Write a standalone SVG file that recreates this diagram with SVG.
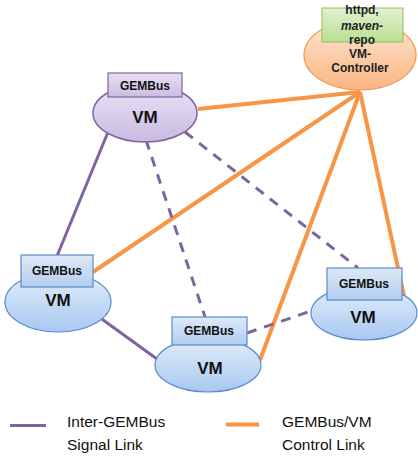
<svg xmlns="http://www.w3.org/2000/svg" width="418" height="456" viewBox="0 0 418 456">
<defs>
<linearGradient id="gBlue" x1="0" y1="0" x2="0" y2="1"><stop offset="0" stop-color="#e3eefb"/><stop offset="1" stop-color="#a8c8f0"/></linearGradient>
<linearGradient id="gBlueBox" x1="0" y1="0" x2="0" y2="1"><stop offset="0" stop-color="#dde9f8"/><stop offset="1" stop-color="#b3cdef"/></linearGradient>
<linearGradient id="gPurple" x1="0" y1="0" x2="0" y2="1"><stop offset="0" stop-color="#ece6f5"/><stop offset="1" stop-color="#c9b9e2"/></linearGradient>
<linearGradient id="gPurpleBox" x1="0" y1="0" x2="0" y2="1"><stop offset="0" stop-color="#e6def2"/><stop offset="1" stop-color="#cbbde3"/></linearGradient>
<linearGradient id="gOrange" x1="0" y1="0" x2="0" y2="1"><stop offset="0" stop-color="#fde6d2"/><stop offset="1" stop-color="#fbb583"/></linearGradient>
<linearGradient id="gGreen" x1="0" y1="0" x2="0" y2="1"><stop offset="0" stop-color="#e2f2d2"/><stop offset="1" stop-color="#b9de93"/></linearGradient>
</defs>
<style>
.sig{stroke:#8064a2;stroke-width:3;fill:none}
.dash{stroke:#8064a2;stroke-width:3;fill:none;stroke-dasharray:10 8}
.ctl{stroke:#f79646;stroke-width:4;fill:none}
.vmb{fill:url(#gBlue);stroke:#5b8bc8;stroke-width:1.2}
.boxb{fill:url(#gBlueBox);stroke:#5b8bc8;stroke-width:1.2}
.vmp{fill:url(#gPurple);stroke:#8064a2;stroke-width:1.5}
.boxp{fill:url(#gPurpleBox);stroke:#8064a2;stroke-width:1.2}
.gb{font-family:"Liberation Sans",Arial,sans-serif;font-weight:bold;font-size:12px;fill:#111;text-anchor:middle}
.vm{font-family:"Liberation Sans",Arial,sans-serif;font-weight:bold;font-size:17px;fill:#111;text-anchor:middle}
.ct{font-family:"Liberation Sans",Arial,sans-serif;font-weight:bold;font-size:12px;fill:#222;text-anchor:middle}
.lg{font-family:"Liberation Sans",Arial,sans-serif;font-size:15.5px;fill:#111}
</style>
<g id="connectors">
<line class="ctl" x1="360" y1="92" x2="198" y2="109"/>
<line class="ctl" x1="360" y1="92" x2="93" y2="272"/>
<line class="ctl" x1="360" y1="92" x2="260" y2="360"/>
<line class="ctl" x1="360" y1="92" x2="404" y2="296"/>
<line class="sig" x1="108" y1="132" x2="57" y2="256"/>
<line class="sig" x1="99" y1="317" x2="157" y2="359"/>
<line class="dash" x1="146" y1="140" x2="205" y2="317"/>
<line class="dash" x1="185" y1="132" x2="358" y2="268"/>
<line class="dash" x1="247" y1="333" x2="311" y2="311"/>
</g>
<g id="controller">
<ellipse cx="360" cy="55" rx="56" ry="35" fill="url(#gOrange)" stroke="#f79646" stroke-width="1.2"/>
<text class="ct" x="360" y="57.5">VM-</text>
<text class="ct" x="360" y="72">Controller</text>
</g>
<g id="httpd">
<rect x="322" y="8" width="81" height="34" fill="url(#gGreen)" stroke="#9bbb59" stroke-width="1"/>
<text class="ct" x="362" y="14" font-size="11">httpd,</text>
<text class="ct" x="362" y="30" font-style="italic" font-size="10.5">maven-</text>
<text class="ct" x="362" y="43.5" font-size="11">repo</text>
</g>
<g id="vm-top">
<ellipse class="vmp" cx="145" cy="113" rx="52" ry="29"/>
<rect class="boxp" x="108" y="73" width="74" height="24"/>
<text class="gb" x="145" y="89.5">GEMBus</text>
<text class="vm" x="145" y="123">VM</text>
</g>
<g id="vm-left">
<ellipse class="vmb" cx="58" cy="302" rx="53" ry="30"/>
<rect class="boxb" x="21" y="255" width="72" height="32"/>
<text class="gb" x="57" y="275">GEMBus</text>
<text class="vm" x="58" y="306">VM</text>
</g>
<g id="vm-bottom">
<ellipse class="vmb" cx="208" cy="365" rx="53" ry="27"/>
<rect class="boxb" x="172" y="317" width="75" height="28"/>
<text class="gb" x="209" y="335">GEMBus</text>
<text class="vm" x="210" y="374">VM</text>
</g>
<g id="vm-right">
<ellipse class="vmb" cx="364" cy="313" rx="53" ry="27"/>
<rect class="boxb" x="327" y="268" width="75" height="32"/>
<text class="gb" x="364" y="288">GEMBus</text>
<text class="vm" x="363" y="323">VM</text>
</g>
<g id="legend">
<line x1="10" y1="425.5" x2="46" y2="425.5" stroke="#8064a2" stroke-width="3"/>
<text class="lg" x="67" y="427">Inter-GEMBus</text>
<text class="lg" x="67" y="450">Signal Link</text>
<line x1="226" y1="424.5" x2="259" y2="424.5" stroke="#f79646" stroke-width="4"/>
<text class="lg" x="282" y="427">GEMBus/VM</text>
<text class="lg" x="282" y="450">Control Link</text>
</g>
</svg>
